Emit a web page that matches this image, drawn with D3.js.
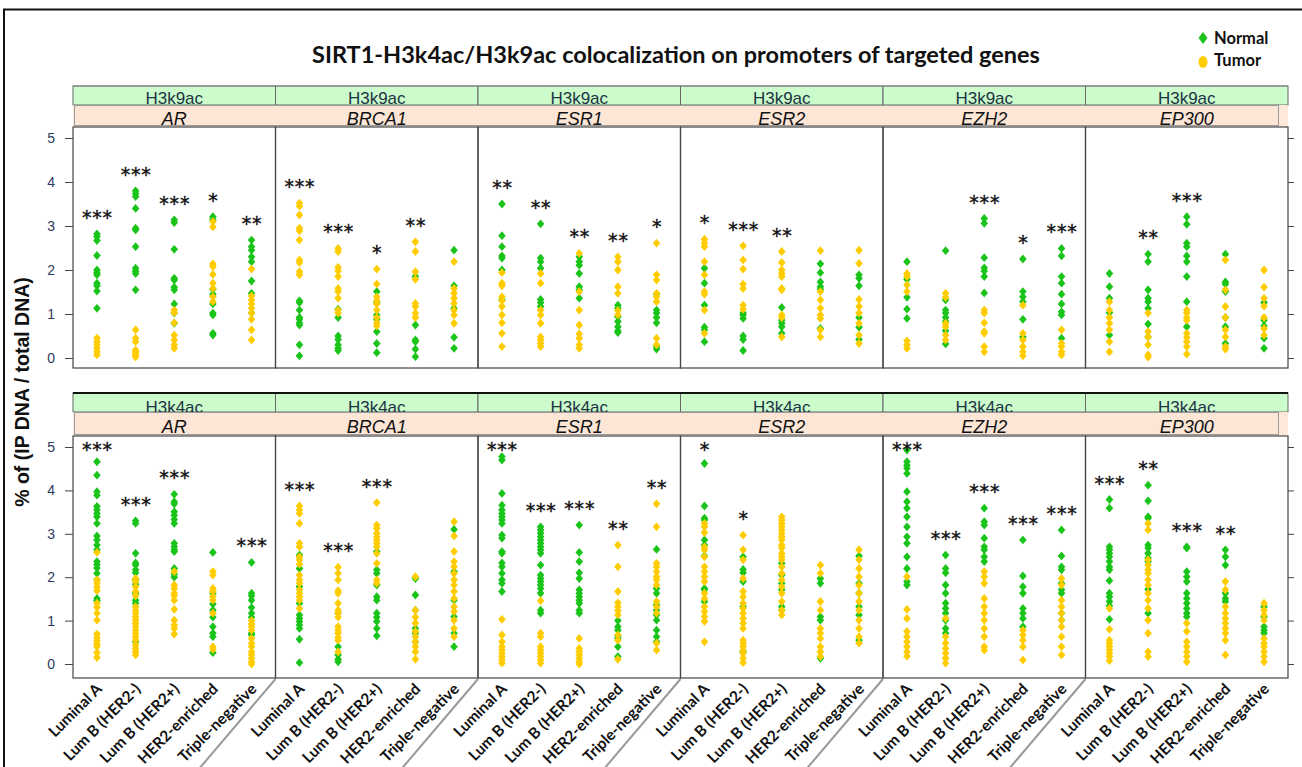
<!DOCTYPE html>
<html><head><meta charset="utf-8">
<script src="https://cdn.jsdelivr.net/npm/d3@7"></script>
<style>body{margin:0;background:#fff}svg{display:block}</style>
</head><body>
<svg id="c" width="1302" height="767"></svg>
<script>
// ---------------- data ----------------
const categories = ["Luminal A","Lum B (HER2-)","Lum B (HER2+)","HER2-enriched","Triple-negative"];
const genes = ["AR","BRCA1","ESR1","ESR2","EZH2","EP300"];
const marks = ["H3k9ac","H3k4ac"];
const groups = ["Normal","Tumor"];
const yTicks = [0,1,2,3,4,5];
const titleText = "SIRT1-H3k4ac/H3k9ac colocalization on promoters of targeted genes";
const yTitle = "% of (IP DNA / total DNA)";

// H3k9ac (top row)
const k9_AR_N = [[2.82,2.76,2.67,2.33,2.0,1.94,1.89,1.70,1.64,1.52,1.13],[3.80,3.74,3.67,3.40,2.95,2.91,2.53,2.04,1.98,1.92,1.55],[3.14,3.08,2.47,1.81,1.77,1.61,1.55,1.23,1.02,0.79],[3.21,3.14,1.56,1.45,1.23,1.02,0.98,0.56,0.52],[2.68,2.53,2.45,2.30,2.19,1.75,1.47,1.02]];
const k9_AR_T = [[0.45,0.37,0.30,0.22,0.14,0.07],[0.64,0.45,0.37,0.18,0.14,0.11,0.07,0.02],[1.09,1.03,0.80,0.52,0.41,0.30,0.22],[3.10,2.98,2.14,2.08,1.90,1.70,1.58,1.39,1.28],[2.02,1.41,1.32,1.23,1.13,1.02,0.88,0.64,0.41]];
const k9_AR_sig = ["***","***","***","*","**"];

const k9_BRCA1_N = [[1.30,1.26,1.09,0.92,0.88,0.80,0.75,0.30,0.05],[1.11,0.92,0.50,0.42,0.30,0.22,0.17],[1.51,1.26,0.98,0.88,0.60,0.33,0.12],[1.85,0.75,0.41,0.37,0.20,0.03],[2.45,1.64,1.13,0.47,0.22]];
const k9_BRCA1_T = [[3.52,3.45,3.25,2.95,2.89,2.68,2.23,2.17,1.96,1.89],[2.49,2.42,2.06,1.98,1.85,1.58,1.51,1.36,1.09,1.02],[2.02,1.68,1.39,1.30,1.23,1.09,0.92,0.80,0.73],[2.64,2.42,1.96,1.79,1.24,1.17,1.02,0.92],[2.19,1.58,1.47,1.36,1.24,1.09,0.98,0.79]];
const k9_BRCA1_sig = ["***","***","*","**",""];

const k9_ESR1_N = [[3.50,2.78,2.53,2.32,2.27,2.0,1.32],[3.05,2.27,2.19,2.04,1.33,1.26,1.17],[2.30,2.19,2.11,1.92,1.62,1.55,1.36],[1.20,1.13,0.94,0.83,0.71,0.62,0.58],[1.45,1.09,1.02,0.92,0.80,0.26,0.20]];
const k9_ESR1_T = [[1.94,1.70,1.64,1.39,1.30,1.17,0.98,0.80,0.56,0.26],[1.92,1.70,1.09,0.98,0.79,0.48,0.41,0.33,0.26],[2.38,1.51,1.09,0.75,0.55,0.45,0.30,0.22],[2.30,2.19,2.0,1.62,1.47,1.08,0.98],[2.61,1.89,1.77,1.47,1.39,1.28,0.45,0.30]];
const k9_ESR1_sig = ["**","**","**","**","*"];

const k9_ESR2_N = [[2.04,1.70,1.20,0.70,0.64,0.37],[1.02,0.98,0.90,0.50,0.42,0.17],[1.15,0.86,0.79,0.71,0.56],[2.14,1.94,1.73,1.62,1.56,0.67],[1.89,1.81,1.64,0.92,0.70,0.42]];
const k9_ESR2_T = [[2.70,2.61,2.53,2.19,1.89,1.51,1.45,1.09,0.56],[2.55,2.23,2.02,1.68,1.58,1.20,1.11],[2.42,2.17,2.0,1.92,1.85,1.58,1.55,0.98,0.92,0.48],[2.44,1.51,1.32,1.13,0.98,0.90,0.64,0.48],[2.45,2.15,1.33,1.17,1.02,0.79,0.52,0.33]];
const k9_ESR2_sig = ["*","***","**","",""];

const k9_EZH2_N = [[2.19,1.79,1.38,1.11,0.90],[2.44,1.32,1.09,1.02,0.92,0.83,0.62,0.32],[3.17,3.06,2.28,2.05,1.98,1.85,1.48],[2.25,1.51,1.39,1.28,0.88,0.48],[2.49,2.32,1.85,1.70,1.45,1.23,1.05,0.98,0.45]];
const k9_EZH2_T = [[1.92,1.85,1.66,1.51,0.39,0.30,0.22],[1.47,1.38,0.79,0.71,0.52,0.41],[1.09,1.02,0.80,0.60,0.56,0.26,0.14],[1.20,0.56,0.41,0.26,0.14,0.05],[0.64,0.33,0.26,0.14,0.07]];
const k9_EZH2_sig = ["","","***","*","***"];

const k9_EP300_N = [[1.92,1.62,1.36,1.03,0.52],[2.36,2.19,1.55,1.36,1.28,1.13,0.77,0.48],[3.21,3.04,2.61,2.53,2.32,2.19,1.85,1.28,0.71],[2.36,1.73,1.68,1.51,0.92,0.71,0.33],[1.26,0.86,0.73,0.45,0.22]];
const k9_EP300_T = [[1.28,1.09,0.92,0.79,0.64,0.37,0.14],[1.02,0.60,0.48,0.30,0.07,0.02],[1.09,1.02,0.92,0.86,0.56,0.47,0.37,0.26,0.09],[2.23,1.55,1.17,0.92,0.64,0.48,0.26,0.20],[2.0,1.61,1.36,1.18,0.92,0.67,0.52]];
const k9_EP300_sig = ["","**","***","",""];

// H3k4ac (bottom row)
const k4_AR_N = [[4.66,4.35,3.97,3.89,3.63,3.55,3.47,3.39,3.24,2.95,2.86,2.74,2.63,2.36,2.29,2.21,2.09,1.94,1.51,1.46],[3.30,3.24,2.55,2.33,2.28,2.17,2.10,1.94,1.84,1.63,1.47,1.40,0.51],[3.91,3.74,3.69,3.51,3.43,3.33,3.24,2.78,2.70,2.63,2.59,2.20,2.07,2.00],[2.57,1.63,1.38,1.24,1.08,0.86,0.71,0.63,0.26],[2.34,1.63,1.57,1.47,1.30,1.17,1.08,0.71,0.67]];
const k4_AR_T = [[2.57,1.94,1.86,1.77,1.69,1.40,1.31,1.17,1.01,0.69,0.61,0.54,0.46,0.40,0.26,0.15],[1.97,1.90,1.78,1.67,1.57,1.32,1.24,1.17,1.09,1.01,0.94,0.86,0.78,0.71,0.63,0.55,0.44,0.36,0.28,0.21],[2.13,1.82,1.74,1.63,1.57,1.47,1.26,1.01,0.90,0.82,0.69],[2.13,2.05,1.74,1.67,1.55,1.47,1.17,0.40,0.34],[1.00,0.92,0.86,0.78,0.59,0.48,0.40,0.28,0.21,0.13,0.05,0.0]];
const k4_AR_sig = ["***","***","***","","***"];

const k4_BRCA1_N = [[2.51,2.20,1.78,1.40,1.13,1.05,0.98,0.90,0.82,0.57,0.03],[1.17,0.40,0.21,0.11,0.05],[2.59,2.17,2.09,1.82,1.55,1.47,1.17,1.08,0.98,0.82,0.65],[1.97,1.59,1.24,0.82,0.71,0.51],[3.10,2.13,1.47,1.09,0.71,0.40]];
const k4_BRCA1_T = [[3.64,3.55,3.47,3.24,2.78,2.70,2.47,2.40,2.30,2.05,1.94,1.86,1.71,1.63,1.55,1.47,1.28],[2.23,2.09,1.94,1.69,1.63,1.40,1.24,1.17,1.08,0.86,0.78,0.71,0.61,0.55,0.28],[3.72,3.20,3.13,3.01,2.93,2.86,2.78,2.70,2.55,2.32,1.94,1.86],[2.01,1.24,1.08,0.94,0.75,0.63,0.51,0.40,0.28,0.11],[3.28,2.95,2.59,2.36,2.24,2.09,1.94,1.82,1.67,1.51,1.32,1.21,1.01,0.82,0.63]];
const k4_BRCA1_sig = ["***","***","***","",""];

const k4_ESR1_N = [[4.78,4.70,3.93,3.66,3.55,3.47,3.39,3.32,3.24,2.97,2.90,2.59,2.55,2.33,2.24,2.09,1.94,1.86,1.67],[3.16,3.09,3.01,2.93,2.86,2.78,2.70,2.63,2.55,2.28,2.05,1.97,1.90,1.82,1.74,1.63,1.24,1.17],[3.20,2.57,2.36,2.10,1.97,1.71,1.63,1.55,1.47,1.40,1.24,1.17],[1.00,0.86,0.78,0.65,0.59,0.40,0.17],[2.64,1.74,1.63,1.36,1.24,1.13,1.01,0.78,0.63,0.51]];
const k4_ESR1_T = [[1.03,0.67,0.51,0.40,0.32,0.25,0.17,0.09,0.02],[1.46,0.71,0.63,0.40,0.32,0.25,0.17,0.09,0.02],[0.59,0.36,0.28,0.21,0.13,0.05,0.0],[2.74,2.24,1.67,1.41,1.32,1.23,1.13,0.67,0.55,0.11],[3.69,3.16,2.32,2.24,2.13,2.01,1.94,1.82,1.44,1.32,1.17,0.48,0.32]];
const k4_ESR1_sig = ["***","***","***","**","**"];

const k4_ESR2_N = [[4.62,3.64,3.36,3.32,2.86,2.74,2.49,1.74,1.71,1.44],[2.47,2.18,2.10,1.90,1.32,0.28],[2.32,2.05,1.86,1.71,1.32,1.24],[1.97,1.86,1.09,1.01,0.13],[2.49,1.86,1.63,1.32,1.13,0.55]];
const k4_ESR2_T = [[3.24,3.16,3.03,2.70,2.63,2.47,2.24,2.13,2.01,1.90,1.63,1.51,1.32,1.21,1.09,0.98,0.51],[2.97,2.63,2.40,1.97,1.67,1.55,1.40,1.28,1.17,1.05,0.94,0.82,0.55,0.48,0.40,0.32,0.25,0.13,0.03],[3.39,3.32,3.24,3.16,3.09,3.01,2.93,2.86,2.74,2.67,2.55,2.47,2.40,2.24,2.09,1.94,1.78,1.63,1.44,1.24,1.13],[2.28,2.09,1.44,1.24,0.82,0.71,0.59,0.40,0.28,0.17],[2.63,2.40,2.20,2.01,1.82,1.63,1.44,1.24,1.01,0.82,0.63,0.48]];
const k4_ESR2_sig = ["*","*","","",""];

const k4_EZH2_N = [[4.93,4.66,4.58,4.51,4.39,3.97,3.74,3.59,3.39,3.16,2.93,2.78,2.47,2.20,1.90,1.82],[2.51,2.20,2.10,1.82,1.63,1.40,1.28,1.17,1.01,0.82,0.71],[3.59,3.28,3.20,2.90,2.70,2.63,2.47,2.36],[2.86,2.03,1.78,1.63,1.28,1.17,1.05,0.86],[3.09,2.49,2.24,2.17,1.86,1.71,1.63,1.17,1.01]];
const k4_EZH2_T = [[2.01,1.26,1.05,0.75,0.63,0.51,0.40,0.28,0.18],[1.05,0.63,0.48,0.36,0.25,0.13,0.02],[2.13,2.01,1.86,1.51,1.32,1.17,1.01,0.82,0.63,0.40,0.32],[0.78,0.67,0.55,0.40,0.09],[1.97,1.82,1.47,1.32,1.17,1.01,0.86,0.63,0.40,0.21]];
const k4_EZH2_sig = ["***","***","***","***","***"];

const k4_EP300_N = [[3.79,3.59,2.70,2.63,2.55,2.47,2.36,2.24,2.17,1.92,1.63,1.55,1.44,1.34,1.03],[4.12,3.76,3.39,3.36,2.74,2.67,2.55,2.44,2.36,1.72,1.17],[2.70,2.67,2.13,2.01,1.90,1.63,1.51,1.40,1.28,1.17,1.09],[2.63,2.47,2.28,1.63,1.51,1.44],[1.32,1.09,0.86,0.78,0.71]];
const k4_EP300_T = [[1.28,0.80,0.55,0.48,0.40,0.32,0.25,0.17,0.08],[3.24,3.09,2.40,2.28,2.17,2.09,1.94,1.82,1.63,1.47,1.28,1.01,0.71,0.28,0.17],[0.94,0.75,0.51,0.40,0.28,0.17,0.05],[1.90,1.71,1.32,1.17,1.05,0.94,0.82,0.71,0.55,0.21],[1.40,1.24,1.13,1.01,0.59,0.48,0.40,0.28,0.17,0.05]];
const k4_EP300_sig = ["***","**","***","**",""];

// lookup table built from the named arrays
const table = {
  H3k9ac: {AR:[k9_AR_N,k9_AR_T,k9_AR_sig], BRCA1:[k9_BRCA1_N,k9_BRCA1_T,k9_BRCA1_sig], ESR1:[k9_ESR1_N,k9_ESR1_T,k9_ESR1_sig], ESR2:[k9_ESR2_N,k9_ESR2_T,k9_ESR2_sig], EZH2:[k9_EZH2_N,k9_EZH2_T,k9_EZH2_sig], EP300:[k9_EP300_N,k9_EP300_T,k9_EP300_sig]},
  H3k4ac: {AR:[k4_AR_N,k4_AR_T,k4_AR_sig], BRCA1:[k4_BRCA1_N,k4_BRCA1_T,k4_BRCA1_sig], ESR1:[k4_ESR1_N,k4_ESR1_T,k4_ESR1_sig], ESR2:[k4_ESR2_N,k4_ESR2_T,k4_ESR2_sig], EZH2:[k4_EZH2_N,k4_EZH2_T,k4_EZH2_sig], EP300:[k4_EP300_N,k4_EP300_T,k4_EP300_sig]}
};

// ---------------- drawing ----------------
const COL = {Normal:"#1ac41a", Tumor:"#ffcc00"};
const svg = d3.select("#c");
svg.append("rect").attr("width",1302).attr("height",767).attr("fill","#fff");
// outer frame
svg.append("path").attr("d","M4,770 V9.5 H1306").attr("fill","none").attr("stroke","#111").attr("stroke-width",2);

// title
svg.append("text").attr("x",676).attr("y",63).attr("text-anchor","middle")
  .attr("font-family","Lato, 'Open Sans', sans-serif").attr("font-weight","bold").attr("font-size",23.5)
  .attr("fill","#111").text(titleText);

// legend
const diamond = "M0,-4.4L3.8,0L0,4.4L-3.8,0Z";
const leg = svg.append("g");
leg.append("path").attr("d","M0,-6L4.5,0L0,6L-4.5,0Z").attr("transform","translate(1203,38)").attr("fill",COL.Normal);
leg.append("ellipse").attr("cx",1203).attr("cy",62).attr("rx",4.5).attr("ry",6).attr("fill",COL.Tumor);
leg.append("text").attr("x",1214).attr("y",44).text("Normal");
leg.append("text").attr("x",1214).attr("y",66).text("Tumor");
leg.selectAll("text").attr("font-family","Lato, sans-serif").attr("font-weight","bold").attr("font-size",16.5).attr("fill","#111");

// y title
svg.append("text").attr("transform","translate(29,392) rotate(-90)").attr("text-anchor","middle")
  .attr("font-family","'Liberation Sans', Arial, sans-serif").attr("font-weight","bold").attr("font-size",19.5)
  .attr("fill","#111").text(yTitle);

const panelX = d3.scaleBand().domain(genes).range([73,1288]).padding(0);
const catX = d3.scalePoint().domain(categories).range([0,panelX.bandwidth()]).padding(0.62);

const rows = [
  {mark:"H3k9ac", stripTop:86, stripMid:105, top:127, bottom:368, y0:358, y5:138, stripBase:104, geneBase:125, topLine:"#888"},
  {mark:"H3k4ac", stripTop:393, stripMid:412, top:436, bottom:678, y0:664, y5:447, stripBase:413, geneBase:433, topLine:"#111"}
];

rows.forEach((r,ri)=>{
  const g = svg.append("g");
  const y = d3.scaleLinear().domain([0,5]).range([r.y0,r.y5]);
  // green strips with text
  genes.forEach(gn=>{
    g.append("rect").attr("x",panelX(gn)).attr("y",r.stripTop).attr("width",panelX.bandwidth()).attr("height",r.stripMid-r.stripTop)
      .attr("fill","#ccfccc").attr("stroke","#666").attr("stroke-width",1);
    g.append("text").attr("x",panelX(gn)+panelX.bandwidth()/2).attr("y",r.stripBase).attr("text-anchor","middle")
      .attr("font-family","'Liberation Sans', Arial, sans-serif").attr("font-size",17).attr("fill","#1c3444").text(r.mark);
  });
  g.append("line").attr("x1",73).attr("x2",1288).attr("y1",r.stripTop).attr("y2",r.stripTop)
    .attr("stroke",r.topLine).attr("stroke-width",ri?2:1);
  // peach strip
  g.append("rect").attr("x",73).attr("y",r.stripMid).attr("width",1215).attr("height",r.top-r.stripMid).attr("fill","#fde8da");
  g.append("rect").attr("x",74.5).attr("y",r.stripMid+0.5).attr("width",1204).attr("height",r.top-r.stripMid-2)
    .attr("fill","#fde6d6").attr("stroke","#9a9a9a").attr("stroke-width",1);
  genes.forEach(gn=>{
    g.append("text").attr("x",panelX(gn)+panelX.bandwidth()/2).attr("y",r.geneBase).attr("text-anchor","middle")
      .attr("font-family","'Liberation Sans', Arial, sans-serif").attr("font-style","italic").attr("font-size",18)
      .attr("fill","#111").text(gn);
  });
  // panels
  genes.forEach(gn=>{
    g.append("rect").attr("x",panelX(gn)).attr("y",r.top).attr("width",panelX.bandwidth()).attr("height",r.bottom-r.top)
      .attr("fill","none").attr("stroke","#444").attr("stroke-width",1.2);
  });
  // axes
  const la = g.append("g").attr("transform","translate(73,0)").call(d3.axisLeft(y).tickValues(yTicks).tickSize(8).tickPadding(10).tickFormat(d3.format("d")));
  la.select(".domain").remove();
  la.selectAll("line").attr("stroke","#444");
  la.selectAll("text").attr("font-family","'Liberation Sans', Arial, sans-serif").attr("font-size",14).attr("fill","#2e3a5e");
  const ra = g.append("g").attr("transform","translate(1288,0)").call(d3.axisRight(y).tickValues(yTicks).tickSize(6).tickFormat(""));
  ra.select(".domain").remove();
  ra.selectAll("line").attr("stroke","#444");

  // points
  genes.forEach(gn=>{
    const [N,T,S] = table[r.mark][gn];
    const pg = g.append("g").attr("transform",`translate(${panelX(gn)},0)`);
    const pts = [];
    categories.forEach((c,ci)=>{
      N[ci].forEach(v=>pts.push({c, v, grp:"Normal"}));
    });
    categories.forEach((c,ci)=>{
      T[ci].forEach(v=>pts.push({c, v, grp:"Tumor"}));
    });
    pg.selectAll("path.pt").data(pts).join("path").attr("class","pt")
      .attr("d",diamond).attr("transform",d=>`translate(${catX(d.c)},${y(d.v)})`)
      .attr("fill",d=>COL[d.grp]);
    // significance stars
    categories.forEach((c,ci)=>{
      if(!S[ci]) return;
      const mx = d3.max(N[ci].concat(T[ci]));
      const cy = Math.max(y(mx)-21, r.top+9);
      pg.append("text").attr("x",catX(c)+0.5).attr("y",cy+11).attr("text-anchor","middle")
        .attr("font-family","'DejaVu Sans', sans-serif").attr("font-size",19).attr("letter-spacing",0.8)
        .attr("stroke","#111").attr("stroke-width",0.4)
        .attr("fill","#111").text(S[ci]);
    });
  });

  if(ri===1){
    // separator lines and x labels
    genes.forEach((gn,gi)=>{
      if(gi>0){
        g.append("line").attr("x1",panelX(gn)).attr("y1",r.bottom+1).attr("x2",panelX(gn)-80).attr("y2",r.bottom+95)
          .attr("stroke","#999").attr("stroke-width",2);
      }
      categories.forEach(c=>{
        g.append("text").attr("transform",`translate(${panelX(gn)+catX(c)+6},${r.bottom+12}) rotate(-45)`)
          .attr("text-anchor","end").attr("font-family","Lato, sans-serif").attr("font-weight","bold")
          .attr("font-size",15.5).attr("fill","#111").text(c);
      });
    });
  }
});
</script>
</body></html>
